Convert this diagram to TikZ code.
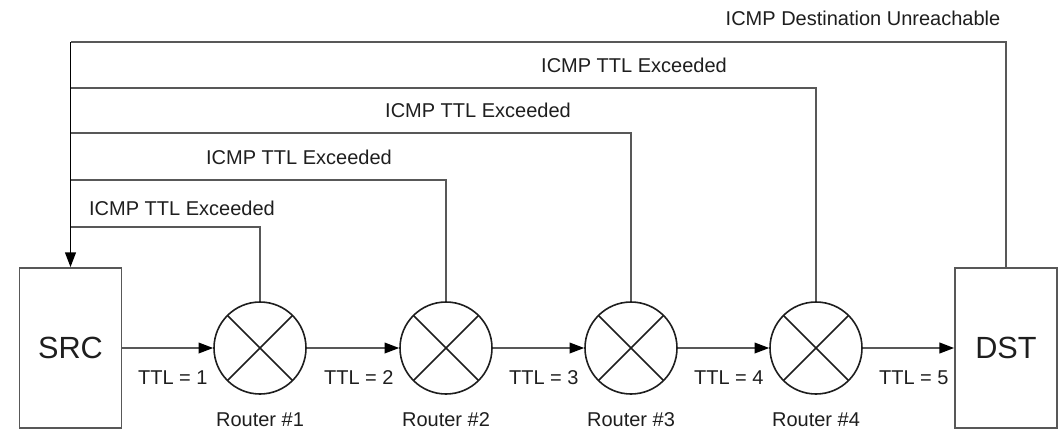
\documentclass[tikz,border=0pt]{standalone}
\usepackage{fontspec}
\setmainfont{Liberation Sans}
\usetikzlibrary{arrows.meta}
\definecolor{wire}{RGB}{88,88,88}
\definecolor{ink}{RGB}{30,30,30}
\tikzset{
  px/.style={x=0.75pt,y=-0.75pt},
  host/.style={draw=wire,line width=1.3pt,minimum width=76.5pt,minimum height=120pt,
    font=\fontsize{23}{27}\selectfont,text=ink,inner sep=0pt},
  router/.style={circle,draw=ink,line width=1.2pt,minimum size=69pt,inner sep=0pt,
    path picture={\draw[ink,line width=1.2pt]
      (path picture bounding box.north west) -- (path picture bounding box.south east)
      (path picture bounding box.north east) -- (path picture bounding box.south west);}},
  lbl/.style={font=\fontsize{15}{18}\selectfont,text=ink,inner sep=0pt},
  tip/.style={-{Triangle[length=11pt,width=8pt,color=black]}},
  flow/.style={draw=wire,line width=1.3pt,tip},
  reply/.style={draw=wire,line width=1.3pt},
}
\begin{document}
\begin{tikzpicture}[px]
\useasboundingbox (0,0) rectangle (1061,430);
% hosts and routers
\node[host] (src) at (70.5,348) {SRC};
\node[host] (dst) at (1006,348) {DST};
\node[router] (r1) at (260,348) {};
\node[router] (r2) at (446,348) {};
\node[router] (r3) at (631,348) {};
\node[router] (r4) at (816,348) {};
\foreach \r/\n in {r1/1,r2/2,r3/3,r4/4}
  \node[lbl] (\r lbl) at ([yshift=-54pt]\r.center) {Router \#\n};
% forward path with TTL values
\draw[flow] (src) -- (r1);
\draw[flow] (r1) -- (r2);
\draw[flow] (r2) -- (r3);
\draw[flow] (r3) -- (r4);
\draw[flow] (r4) -- (dst);
\node[lbl,anchor=east] (t1) at ([xshift=-4pt,yshift=-22.5pt]r1.west) {TTL = 1};
\node[lbl,anchor=east] (t2) at ([xshift=-4pt,yshift=-22.5pt]r2.west) {TTL = 2};
\node[lbl,anchor=east] (t3) at ([xshift=-4pt,yshift=-22.5pt]r3.west) {TTL = 3};
\node[lbl,anchor=east] (t4) at ([xshift=-4pt,yshift=-22.5pt]r4.west) {TTL = 4};
\node[lbl,anchor=east] (t5) at ([xshift=-4pt,yshift=-22.5pt]dst.west) {TTL = 5};
% return path junctions on the SRC column
\coordinate (j1) at (70.5,227);
\coordinate (j2) at (70.5,180);
\coordinate (j3) at (70.5,133);
\coordinate (j4) at (70.5,88);
\coordinate (j5) at (70.5,42);
\draw[reply] (r1.north) |- (j1);
\draw[reply] (r2.north) |- (j2);
\draw[reply] (r3.north) |- (j3);
\draw[reply] (r4.north) |- (j4);
\draw[reply] (dst.north) |- (j5);
\draw[draw=black,line width=1.4pt,tip] (j5) -- (src.north);
% ICMP messages
\node[lbl] (m1) at (182,208) {ICMP TTL Exceeded};
\node[lbl] (m2) at (299,157) {ICMP TTL Exceeded};
\node[lbl] (m3) at (478,110) {ICMP TTL Exceeded};
\node[lbl] (m4) at (634,65) {ICMP TTL Exceeded};
\node[lbl] (m5) at (863,18) {ICMP Destination Unreachable};
\end{tikzpicture}
\end{document}
